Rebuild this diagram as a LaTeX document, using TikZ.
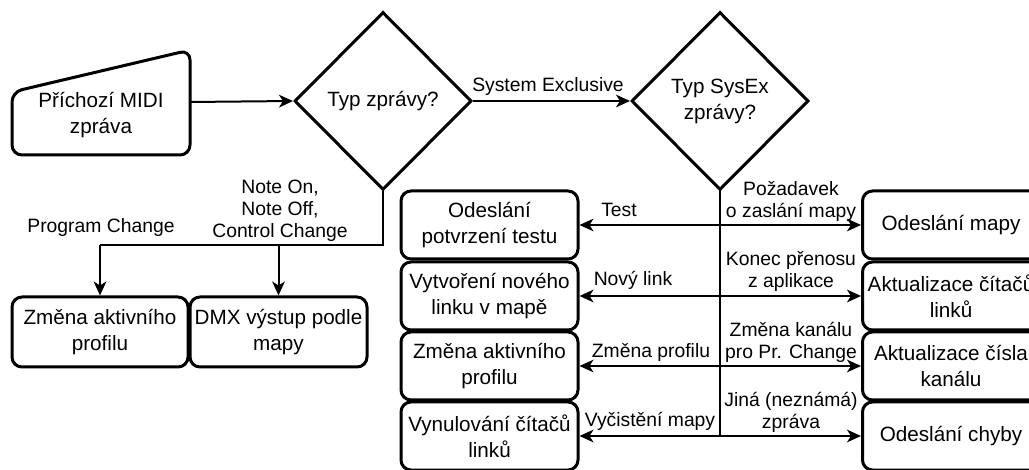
\documentclass[tikz,border=0pt]{standalone}
\usepackage{fontspec}
\setmainfont{Liberation Sans}
\usetikzlibrary{shapes.geometric,arrows.meta}
\begin{document}
\begin{tikzpicture}[x=0.75pt,y=-0.75pt,
  txt/.style={align=center,font=\fontsize{15.5}{19.5}\selectfont},
  box/.style={txt,draw,line width=2.25pt,rounded corners=7.5pt,minimum width=132.75pt,minimum height=51pt,inner sep=1pt},
  dec/.style={txt,draw,diamond,line width=2.25pt,minimum width=132.75pt,minimum height=133.5pt,inner sep=0pt},
  conn/.style={line width=1.5pt},
  arr/.style={conn,-{Stealth[length=10.5pt,width=9.5pt,inset=3pt]}},
  lbl/.style={align=center,font=\fontsize{14.5}{16.5}\selectfont,inner sep=0pt}
]
\useasboundingbox (0,0) rectangle (1029,470);

% manual input
\draw[line width=2.25pt,rounded corners=7.5pt] (12,92) -- (190,50) -- (190,155) -- (12,155) -- cycle;
\node[txt] (in) at (101,115) {Příchozí MIDI\\zpráva};
\coordinate (inR) at (190,102);

% decisions
\node[dec] (d1) at (383,101) {Typ zprávy?};
\node[dec] (d2) at (720,101) {Typ SysEx\\zprávy?};

\draw[arr] (inR) -- (d1.west);
\draw[arr] (d1.east) -- (d2.west);
\node[lbl] (lse) at (548,87) {System Exclusive};

% bottom-left boxes
\node[box,minimum width=132pt,minimum height=52.5pt] (zm) at (100,332) {Změna aktivního\\profilu};
\node[box,minimum width=132.75pt,minimum height=52.5pt] (dmx) at (278.5,332) {DMX výstup podle\\mapy};

\coordinate (j1) at (383,245);
\coordinate (j2) at (100,245);
\draw[conn] (d1.south) -- (j1) -- (j2);
\draw[arr] (j2) -- (zm.north);
\draw[arr] (dmx.north |- j1) -- (dmx.north);
\node[lbl] (lpc) at (101,228) {Program Change};
\node[lbl] (lno) at (280,211) {Note On,\\Note Off,\\Control Change};

% left column
\node[box] (l1) at (489.5,225) {Odeslání\\potvrzení testu};
\node[box] (l2) at (489.5,296) {Vytvoření nového\\linku v mapě};
\node[box] (l3) at (489.5,366) {Změna aktivního\\profilu};
\node[box] (l4) at (489.5,436) {Vynulování čítačů\\linků};

% right column
\node[box] (r1) at (951,225) {Odeslání mapy};
\node[box] (r2) at (951,296) {Aktualizace čítačů\\linků};
\node[box] (r3) at (951,366) {Aktualizace čísla\\kanálu};
\node[box] (r4) at (951,436) {Odeslání chyby};

\coordinate (v) at (720,436);
\draw[conn] (d2.south) -- (v);
\foreach \b in {l1,l2,l3,l4}{\draw[arr] (d2.south |- \b.east) -- (\b.east);}
\foreach \b in {r1,r2,r3,r4}{\draw[arr] (d2.south |- \b.west) -- (\b.west);}

\node[lbl] (t1) at (619,210) {Test};
\node[lbl] (t2) at (633,280) {Nový link};
\node[lbl] (t3) at (651,352) {Změna profilu};
\node[lbl] (t4) at (650,421) {Vyčistění mapy};

\node[lbl] (u1) at (791,201) {Požadavek\\o zaslání mapy};
\node[lbl] (u2) at (791,271) {Konec přenosu\\z aplikace};
\node[lbl] (u3) at (791,342) {Změna kanálu\\pro Pr. Change};
\node[lbl] (u4) at (791,412) {Jiná (neznámá)\\zpráva};
\end{tikzpicture}
\end{document}
